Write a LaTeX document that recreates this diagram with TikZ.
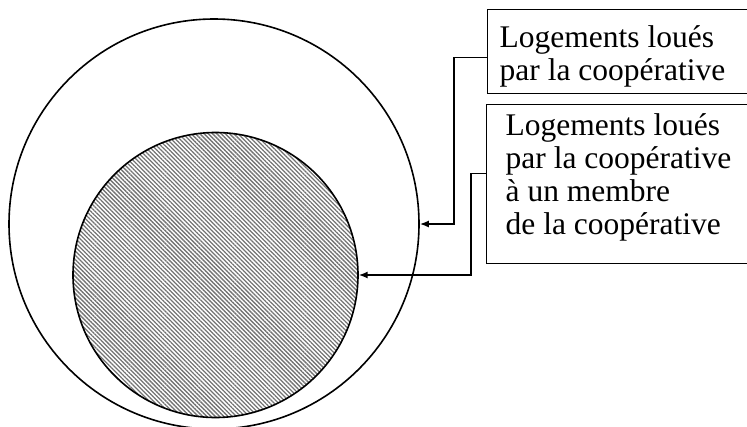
\documentclass[tikz,border=0pt]{standalone}
\usepackage{fontspec}
\setmainfont{Liberation Serif}
\usetikzlibrary{arrows.meta,patterns.meta}
\begin{document}
\begin{tikzpicture}[x=1pt,y=-1pt,
    labelbox/.style={draw,line width=1.3pt,anchor=north west,inner ysep=0pt,font=\fontsize{31.5}{33}\selectfont},
    setcircle/.style={circle,draw,line width=1.6pt,inner sep=0pt},
    link/.style={line width=1.6pt,-{Latex[length=9pt,width=7pt]}}]
  \useasboundingbox (0,0) rectangle (747,426);
  \clip (0,0) rectangle (747,426);
  \node[setcircle,minimum size=410pt] (outer) at (214,224) {};
  \node[setcircle,minimum size=285pt,pattern={Lines[angle=-45,distance=3pt,line width=1.3pt]},pattern color=black!55] (inner) at (215.5,275) {};
  \node[labelbox,inner xsep=12pt] (loues) at (487,9)
    {\parbox[c][84pt][t]{245pt}{\rule{0pt}{38pt}Logements loués\\par la coopérative}};
  \node[labelbox,inner xsep=19pt] (membre) at (486,104)
    {\parbox[c][159pt][t]{245pt}{\rule{0pt}{31pt}Logements loués\\par la coopérative\\à un membre\\de la coopérative}};
  \draw[link] ([yshift=-6pt]loues.west) -- ++(-33,0) |- (outer.east);
  \draw[link] ([yshift=10.5pt]membre.west) -- ++(-15,0) |- (inner.east);
\end{tikzpicture}
\end{document}
